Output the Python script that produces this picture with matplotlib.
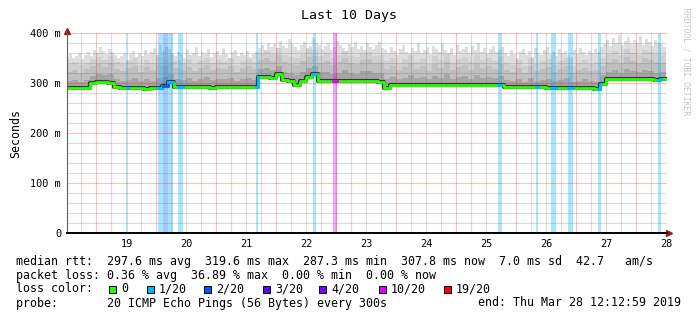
import numpy as np
import matplotlib.pyplot as plt
from matplotlib.patches import Rectangle

plt.rcParams['font.family'] = ['DejaVu Sans Mono']

# time axis in days; label "N" sits at noon of day N
t_start = 18.0
bin_days = 0.1        # median and inner smoke layers
fine_days = 0.05      # outer smoke edge
t_min, t_max = 18.009, 28.009

median = [290, 290, 290, 290, 300, 302, 303, 301, 292, 290,
          291, 291, 290, 289, 290, 290, 294, 302, 292, 292,
          293, 292, 292, 292, 291, 292, 292, 292, 293, 292,
          292, 292, 312, 312, 311, 318, 307, 304, 297, 304,
          312, 318, 305, 304, 304, 304, 304, 304, 304, 304,
          304, 304, 303, 290, 296, 296, 296, 296, 296, 296,
          296, 296, 296, 296, 296, 296, 296, 296, 296, 296,
          296, 296, 296, 292, 292, 292, 292, 292, 292, 292,
          291, 291, 290, 290, 291, 291, 291, 291, 288, 298,
          308, 308, 308, 308, 308, 308, 308, 308, 306, 308]

smoke_mid = [304, 306, 303, 307, 314, 318, 316, 318, 308, 305,
             307, 310, 304, 308, 305, 310, 312, 318, 308, 306,
             310, 305, 308, 312, 306, 309, 308, 311, 305, 308,
             310, 307, 328, 330, 326, 334, 322, 320, 316, 322,
             330, 334, 322, 322, 318, 321, 326, 320, 319, 324,
             325, 320, 320, 308, 312, 309, 311, 316, 310, 313,
             308, 315, 311, 318, 309, 312, 314, 309, 316, 311,
             313, 310, 315, 306, 304, 308, 303, 310, 305, 307,
             309, 304, 306, 310, 303, 305, 308, 304, 303, 316,
             322, 326, 321, 328, 324, 322, 327, 324, 321, 322]

smoke_upper = [322, 326, 320, 328, 334, 338, 332, 340, 328, 324,
               330, 334, 322, 332, 326, 336, 334, 342, 330, 326,
               332, 324, 330, 336, 326, 330, 328, 334, 322, 330,
               334, 328, 346, 350, 344, 356, 342, 338, 336, 344,
               352, 354, 340, 344, 336, 342, 350, 340, 338, 346,
               348, 340, 342, 328, 334, 326, 332, 340, 328, 334,
               324, 338, 330, 342, 326, 332, 336, 326, 340, 330,
               334, 328, 338, 326, 322, 330, 320, 334, 324, 328,
               332, 322, 328, 334, 320, 326, 330, 324, 326, 334,
               342, 348, 340, 352, 344, 340, 350, 346, 342, 340]

smoke_high = [338, 342, 336, 340, 348, 352, 346, 354, 342, 338,
              344, 350, 336, 346, 340, 352, 348, 356, 344, 340,
              348, 338, 344, 350, 340, 346, 342, 350, 336, 344,
              348, 342, 360, 364, 358, 370, 356, 352, 350, 358,
              368, 366, 354, 360, 350, 356, 364, 354, 352, 360,
              362, 354, 356, 344, 350, 340, 348, 356, 342, 350,
              338, 354, 346, 358, 340, 348, 352, 342, 356, 346,
              350, 344, 354, 340, 336, 346, 334, 350, 338, 344,
              348, 336, 344, 350, 334, 340, 346, 338, 342, 350,
              358, 364, 356, 368, 360, 356, 366, 362, 358, 356]

smoke_max = [352, 358, 350, 355, 360, 348, 356, 362, 354, 366,
             360, 372, 364, 358, 368, 362, 356, 350, 354, 360,
             346, 358, 364, 352, 360, 354, 366, 358, 362, 370,
             356, 376, 364, 372, 368, 360, 354, 362, 358, 350,
             366, 356, 360, 372, 354, 362, 358, 368, 352, 360,
             364, 356, 370, 358, 350, 362, 366, 354, 360, 356,
             364, 352, 358, 362,
             370, 376, 366, 380, 372, 378, 368, 384, 374, 370,
             388, 378, 372, 366, 376, 382, 370, 374, 390, 380,
             376, 368, 374, 380, 366, 372, 384, 376, 370, 364,
             378, 372, 382, 368, 374, 366, 380, 372, 368, 376,
             382, 370,
             366, 360, 372, 364, 356, 368, 376, 362, 358, 370,
             364, 380, 360, 366, 372, 358, 374, 368, 362, 378,
             366, 360, 370, 356, 376, 364, 368, 372, 360, 374,
             366, 380, 362, 370, 358, 368, 374, 362, 366, 372,
             360, 354, 366, 358, 350, 362, 368, 356, 364, 352,
             370, 360, 356, 366, 372, 358, 362, 354, 368, 360,
             364, 356, 352, 366, 358, 370, 362, 356, 364, 360,
             368, 362,
             372, 378, 386, 374, 390, 380, 396, 376, 384, 392,
             378, 386, 380, 394, 376, 388, 382, 374, 386, 380,
             378, 372]

loss_start = [19.008, 19.533, 19.617, 19.700, 19.867, 21.167, 22.117,
              22.450, 25.200, 25.833, 26.083, 26.367, 26.867, 27.867]
loss_end = [19.033, 19.617, 19.700, 19.783, 19.950, 21.200, 22.167,
            22.517, 25.250, 25.867, 26.167, 26.450, 26.917, 27.917]
loss_level = ['1/20', '1/20', '2/20', '1/20', '1/20', '1/20', '1/20',
              '10/20', '1/20', '1/20', '1/20', '1/20', '1/20', '1/20']

legend_levels = ['0', '1/20', '2/20', '3/20', '4/20', '10/20', '19/20']
legend_colors = ['#26ff00', '#00b8ff', '#0059ff', '#5e00ff', '#7e00ff', '#dd00ff', '#ff0000']
level_color = dict(zip(legend_levels, legend_colors))

day_labels = list(range(19, 29))
y_ticks = [0, 100, 200, 300, 400]
y_tick_labels = ['0', '100 m', '200 m', '300 m', '400 m']

W, H = 697, 321
fig = plt.figure(figsize=(W / 100, H / 100), dpi=100)
ax = fig.add_axes([67 / W, 1 - 233 / H, 600 / W, 200 / H])

edges = t_start + bin_days * np.arange(len(median) + 1)
fine_edges = t_start + fine_days * np.arange(len(smoke_max) + 1)
med = np.append(median, median[-1])
med_fine = np.array(median)[np.clip(np.searchsorted(edges, fine_edges, side='right') - 1,
                                    0, len(median) - 1)]

# smoke, outer to inner
ax.fill_between(fine_edges, med_fine, np.append(smoke_max, smoke_max[-1]),
                step='post', color='#dedede', lw=0, zorder=1)
ax.fill_between(edges, med, np.append(smoke_high, smoke_high[-1]),
                step='post', color='#d0d0d0', lw=0, zorder=1.05)
ax.fill_between(edges, med, np.append(smoke_upper, smoke_upper[-1]),
                step='post', color='#c0c0c0', lw=0, zorder=1.1)
ax.fill_between(edges, med, np.append(smoke_mid, smoke_mid[-1]),
                step='post', color='#a6a6a6', lw=0, zorder=1.2)

# loss background
for s, e, lv in zip(loss_start, loss_end, loss_level):
    ax.axvspan(s, e, color=level_color[lv], alpha=0.35, lw=0, zorder=1.5)

# grid drawn over the smoke like rrdtool
major_c = (1, 0, 0, 0.25)
minor_c = (0.45, 0.45, 0.45, 0.25)
for d in np.arange(18.25, 28.0, 0.25):
    is_midnight = abs((d - 0.5) - round(d - 0.5)) < 1e-6
    ax.axvline(d, color=major_c if is_midnight else minor_c, lw=0.8, zorder=2)
for v in range(20, 401, 20):
    ax.axhline(v, color=major_c if v % 100 == 0 else minor_c, lw=0.8, zorder=2)

# median line, coloured by loss
ax.step(edges, med, where='post', color='#3a3a3a', lw=3.0, zorder=3)
ax.step(edges, med, where='post', color=level_color['0'], lw=2.0, zorder=3.1)
for s, e, lv in zip(loss_start, loss_end, loss_level):
    inner = edges[(edges > s) & (edges < e)]
    xs = np.concatenate([[s], inner, [e]])
    idx = np.clip(np.searchsorted(edges, xs, side='right') - 1, 0, len(median) - 1)
    ax.step(xs, np.array(median)[idx], where='post', color=level_color[lv], lw=2.0, zorder=3.2)

ax.set_xlim(t_min, t_max)
ax.set_ylim(0, 400)
ax.set_xticks(day_labels)
ax.set_xticklabels([str(d) for d in day_labels], fontsize=7.4)
ax.set_yticks(y_ticks)
ax.set_yticklabels(y_tick_labels, fontsize=7.4)
ax.tick_params(axis='x', length=0, pad=4.5)
ax.tick_params(axis='y', length=0, pad=4.3)
for side in ['top', 'right']:
    ax.spines[side].set_visible(False)
ax.spines['left'].set_color('#606060')
ax.spines['left'].set_linewidth(0.8)
ax.spines['bottom'].set_color('black')
ax.spines['bottom'].set_linewidth(1.4)
ax.spines['left'].set_zorder(4)
ax.spines['bottom'].set_zorder(4)

# axis arrows
ax.plot([0], [1.012], marker='^', ms=4, color='#9b1c1c', transform=ax.transAxes, clip_on=False)
ax.plot([1.004], [0], marker='>', ms=4, color='#9b1c1c', transform=ax.transAxes, clip_on=False)

ax.set_ylabel('Seconds', fontsize=8.4, labelpad=6)


def px(x, y):
    return x / W, 1 - y / H


fig.text(*px(349, 16), 'Last 10 Days', fontsize=9.5, ha='center', va='center')
fig.text(*px(686, 62), 'RRDTOOL / TOBI OETIKER', fontsize=5.8, color='#c4c4c4',
         rotation=270, ha='center', va='center')

fs = 8.4
fig.text(*px(16, 262), 'median rtt:  297.6 ms avg  319.6 ms max  287.3 ms min  '
         '307.8 ms now  7.0 ms sd  42.7   am/s', fontsize=fs, va='center')
fig.text(*px(16, 276), 'packet loss: 0.36 % avg  36.89 % max  0.00 % min  0.00 % now',
         fontsize=fs, va='center')
fig.text(*px(16, 289), 'loss color:', fontsize=fs, va='center')
box_x = [109, 147, 204, 263, 319, 379, 444]
for bx, lv, c in zip(box_x, legend_levels, legend_colors):
    fig.patches.append(Rectangle(px(bx, 292.5), 7 / W, 7 / H, facecolor=c,
                                 edgecolor='black', lw=0.7, transform=fig.transFigure))
    fig.text(*px(bx + 12, 289), lv, fontsize=fs, va='center')
fig.text(*px(16, 303), 'probe:       20 ICMP Echo Pings (56 Bytes) every 300s',
         fontsize=fs, va='center')
fig.text(*px(681, 303), 'end: Thu Mar 28 12:12:59 2019', fontsize=fs,
         va='center', ha='right')

fig.savefig('out.png', dpi=100)
